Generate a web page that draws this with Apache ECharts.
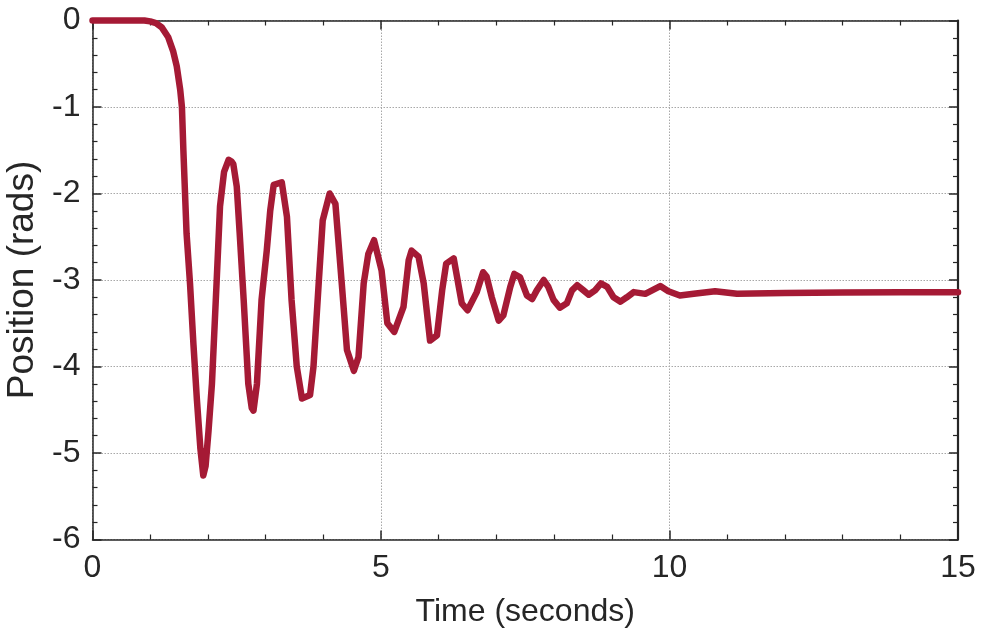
<!DOCTYPE html>
<html>
<head>
<meta charset="utf-8">
<script src="https://cdn.jsdelivr.net/npm/echarts@6/dist/echarts.min.js"></script>
<style>
html,body{margin:0;padding:0;background:#fff;}
#chart{width:981px;height:639px;}
</style>
</head>
<body>
<div id="chart"></div>
<script>
const timeValues = [0,0.5,0.9,1.0,1.1,1.2,1.31,1.40,1.46,1.52,1.55,1.575,1.63,1.69,1.75,1.81,1.87,1.92,1.96,2.01,2.07,2.15,2.21,2.28,2.36,2.41,2.44,2.50,2.55,2.62,2.70,2.76,2.79,2.85,2.93,3.02,3.08,3.14,3.28,3.37,3.45,3.54,3.63,3.77,3.83,3.92,3.99,4.11,4.21,4.32,4.41,4.53,4.61,4.70,4.78,4.88,5.01,5.11,5.23,5.39,5.48,5.53,5.65,5.74,5.85,5.97,6.06,6.13,6.26,6.40,6.50,6.66,6.77,6.83,6.92,7.04,7.12,7.24,7.31,7.41,7.53,7.62,7.70,7.82,7.90,7.99,8.10,8.22,8.31,8.40,8.51,8.60,8.71,8.81,8.92,9.03,9.15,9.26,9.38,9.58,9.84,9.98,10.18,10.42,10.79,11.17,12,13,14,15];
const positionValues = [0,0,0,-0.01,-0.03,-0.08,-0.19,-0.36,-0.53,-0.8,-1.0,-1.5,-2.46,-3.04,-3.75,-4.39,-4.95,-5.26,-5.15,-4.75,-4.2,-3.04,-2.15,-1.75,-1.61,-1.63,-1.66,-1.92,-2.45,-3.23,-4.2,-4.48,-4.51,-4.2,-3.23,-2.66,-2.2,-1.90,-1.87,-2.27,-3.23,-4.0,-4.37,-4.33,-4.0,-3.04,-2.31,-2.0,-2.12,-3.04,-3.81,-4.05,-3.89,-3.04,-2.70,-2.54,-2.89,-3.50,-3.60,-3.31,-2.77,-2.66,-2.73,-3.04,-3.70,-3.64,-3.12,-2.81,-2.75,-3.27,-3.35,-3.14,-2.91,-2.96,-3.20,-3.47,-3.41,-3.08,-2.93,-2.97,-3.18,-3.22,-3.12,-3.00,-3.08,-3.23,-3.32,-3.27,-3.12,-3.06,-3.12,-3.17,-3.12,-3.04,-3.08,-3.20,-3.25,-3.20,-3.14,-3.16,-3.07,-3.13,-3.18,-3.16,-3.13,-3.16,-3.15,-3.145,-3.142,-3.142];
const xTickValues = [0,5,10,15];
const yTickValues = [0,-1,-2,-3,-4,-5,-6];

const seriesData = timeValues.map((t,i)=>[t, positionValues[i]]);
const textColor = '#262626';
const font = 'Liberation Sans, Arial, Helvetica, sans-serif';

const chart = echarts.init(document.getElementById('chart'), null, {renderer:'canvas'});
const tickCommon = {
  axisLine:{show:true, onZero:false, lineStyle:{color:textColor, width:1.5}},
  axisTick:{show:true, inside:true, length:9, lineStyle:{color:textColor, width:1.5}},
  minorTick:{show:true, splitNumber:5, length:5, lineStyle:{color:textColor, width:1.2}},
};
const gridLine = {show:true, lineStyle:{color:'#a8a8a8', type:[1.5,1.5], width:1}};
chart.setOption({
  animation:false,
  backgroundColor:'#ffffff',
  grid:{left:92.5, right:23, top:20.5, bottom:99.5, containLabel:false, outerBoundsMode:'none'},
  xAxis:[{
    type:'value', position:'bottom', min:0, max:15, interval:5,
    ...tickCommon,
    axisLabel:{color:textColor, fontSize:32, fontFamily:font, margin:13},
    splitLine:gridLine,
    name:'Time (seconds)', nameLocation:'middle', nameGap:57,
    nameTextStyle:{color:textColor, fontSize:32, fontFamily:font}
  },{
    type:'value', position:'top', min:0, max:15, interval:5,
    ...tickCommon,
    axisLabel:{show:false}, splitLine:{show:false}
  }],
  yAxis:[{
    type:'value', position:'left', min:-6, max:0, interval:1,
    ...tickCommon,
    axisLabel:{color:textColor, fontSize:32, fontFamily:font, margin:12},
    splitLine:gridLine,
    name:'Position (rads)', nameLocation:'middle', nameGap:43,
    nameTextStyle:{color:textColor, fontSize:37, fontFamily:font}
  },{
    type:'value', position:'right', min:-6, max:0, interval:1,
    ...tickCommon,
    axisLine:{show:true, onZero:false, lineStyle:{color:textColor, width:2.2}},
    axisLabel:{show:false}, splitLine:{show:false}
  }],
  series:[{
    type:'line', xAxisIndex:0, yAxisIndex:0,
    data:seriesData, showSymbol:false, smooth:false,
    lineStyle:{color:'#A51A35', width:6.5, join:'round', cap:'round'},
    clip:false, z:5
  }]
});
</script>
</body>
</html>
